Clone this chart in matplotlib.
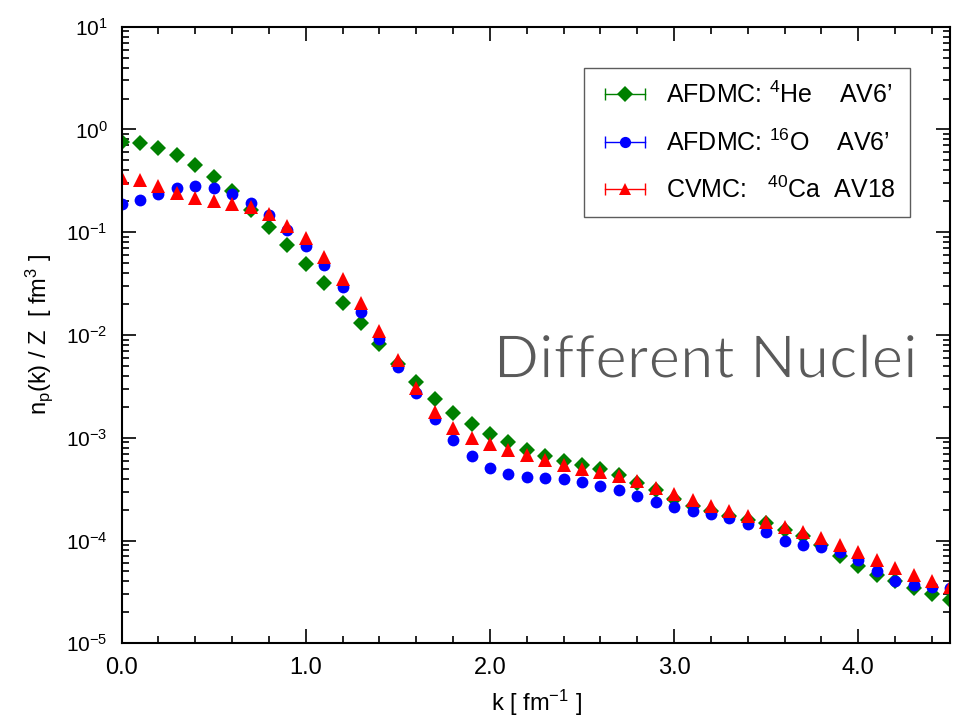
import numpy as np
import matplotlib
matplotlib.use('Agg')
from matplotlib import pyplot as plt
from matplotlib.ticker import MultipleLocator, LogLocator, NullFormatter
from matplotlib.lines import Line2D
from matplotlib.legend_handler import HandlerLine2D
import matplotlib.patheffects as pe

plt.rcParams['font.family'] = ['Liberation Sans', 'DejaVu Sans']
plt.rcParams['mathtext.fontset'] = 'custom'
plt.rcParams['mathtext.rm'] = 'Liberation Sans'
plt.rcParams['mathtext.it'] = 'Liberation Sans'

k = np.round(np.arange(0, 4.51, 0.1), 1)

he4 = [0.76, 0.74, 0.66, 0.57, 0.456, 0.343, 0.25, 0.166, 0.113, 0.075,
       0.049, 0.032, 0.0205, 0.0131, 0.0081, 0.0052, 0.0035, 0.0024, 0.00174, 0.00136,
       0.0011, 0.0009, 0.000766, 0.00067, 0.00059, 0.000547, 0.000497, 0.000437, 0.000363, 0.000307,
       0.000255, 0.000215, 0.000192, 0.000172, 0.00016, 0.000148, 0.000127, 0.00011, 9.1e-5, 7.1e-5,
       5.7e-5, 4.65e-5, 4.0e-5, 3.45e-5, 3.03e-5, 2.65e-5]

o16 = [0.19, 0.205, 0.238, 0.27, 0.285, 0.27, 0.238, 0.193, 0.146, 0.106,
       0.073, 0.048, 0.029, 0.0168, 0.0092, 0.0049, 0.0027, 0.00152, 0.00096, 0.00066,
       0.00051, 0.00044, 0.000415, 0.00041, 0.0004, 0.000374, 0.000342, 0.000308, 0.000269, 0.000237,
       0.000212, 0.000196, 0.000182, 0.000166, 0.000145, 0.00012, 0.0001, 9.1e-5, 8.6e-5, 7.65e-5,
       6.4e-5, 5.0e-5, 4.0e-5, 3.7e-5, 3.5e-5, 3.45e-5]

ca40 = [0.338, 0.321, 0.281, 0.242, 0.213, 0.2, 0.19, 0.175, 0.151, 0.116,
        0.087, 0.0577, 0.0352, 0.0205, 0.011, 0.00576, 0.00305, 0.00178, 0.00124, 0.000995,
        0.00087, 0.000766, 0.000674, 0.000603, 0.000547, 0.0005, 0.00046, 0.00042, 0.000377, 0.000324,
        0.000284, 0.00025, 0.000218, 0.000192, 0.000174, 0.000153, 0.000135, 0.00012, 0.000106, 9.1e-5,
        7.65e-5, 6.4e-5, 5.4e-5, 4.65e-5, 4.0e-5, 3.5e-5]

labels = [r'AFDMC: $^{4}$He    AV6’', r'AFDMC: $^{16}$O    AV6’', r'CVMC:   $^{40}$Ca  AV18']
colors = ['green', 'blue', 'red']
markers = ['D', 'o', '^']
sizes = [8.5, 8.5, 9.5]

fig = plt.figure(figsize=(9.58, 7.22), dpi=100)
ax = fig.add_axes([0.127, 0.109, 0.865, 0.854])

handles = []
hmap = {}
for y, c, m, s in zip([he4, o16, ca40], colors, markers, sizes):
    ax.plot(k, y, linestyle='none', marker=m, color=c, markersize=s, markeredgewidth=0)
    # legend handle: horizontal bar with end caps + marker in the middle
    bar = Line2D([], [], color=c, linewidth=1.0, marker='|', markersize=8, markeredgewidth=1.0)
    dot = Line2D([], [], linestyle='none', color=c, marker=m, markersize=s * 0.95, markeredgewidth=0)
    hmap[bar] = HandlerLine2D(numpoints=2)
    hmap[dot] = HandlerLine2D(numpoints=1)
    handles.append((bar, dot))

ax.set_yscale('log')
ax.set_xlim(0, 4.5)
ax.set_ylim(1e-5, 1e1)
ax.xaxis.set_major_locator(MultipleLocator(1.0))
ax.xaxis.set_minor_locator(MultipleLocator(0.2))
ax.xaxis.set_major_formatter(matplotlib.ticker.FormatStrFormatter('%.1f'))
ax.yaxis.set_major_locator(LogLocator(base=10, numticks=10))
ax.yaxis.set_minor_locator(LogLocator(base=10, subs=np.arange(2, 10), numticks=20))
ax.yaxis.set_minor_formatter(NullFormatter())
ax.tick_params(which='both', direction='in', top=True, right=True, labelsize=15, width=1.2)
ax.tick_params(which='major', length=10, pad=10)
ax.tick_params(which='minor', length=5)
ax.tick_params(axis='x', labelsize=17)
for sp in ax.spines.values():
    sp.set_linewidth(1.5)

ax.set_xlabel(r'k [ fm$^{-1}$ ]', fontsize=17, labelpad=6)
ax.set_ylabel(r'n$_{\rm p}$(k) / Z  [ fm$^{3}$ ]', fontsize=17, labelpad=8)

leg = ax.legend(handles=handles, labels=labels, handler_map=hmap, loc='upper right',
                bbox_to_anchor=(0.951, 0.9335), fontsize=18, frameon=True, fancybox=False,
                edgecolor='#333333', handlelength=2.2, labelspacing=0.85, borderpad=0.55,
                handletextpad=0.55, borderaxespad=0)
leg.get_frame().set_linewidth(1.0)

ax.text(0.9606, 0.458, 'Different Nuclei', transform=ax.transAxes, ha='right', va='center',
        fontsize=43, color='#5a5a5a', family=['Lato', 'DejaVu Sans'], fontweight='normal',
        path_effects=[pe.Stroke(linewidth=1.2, foreground='white')])

fig.savefig('out.png', dpi=100)
